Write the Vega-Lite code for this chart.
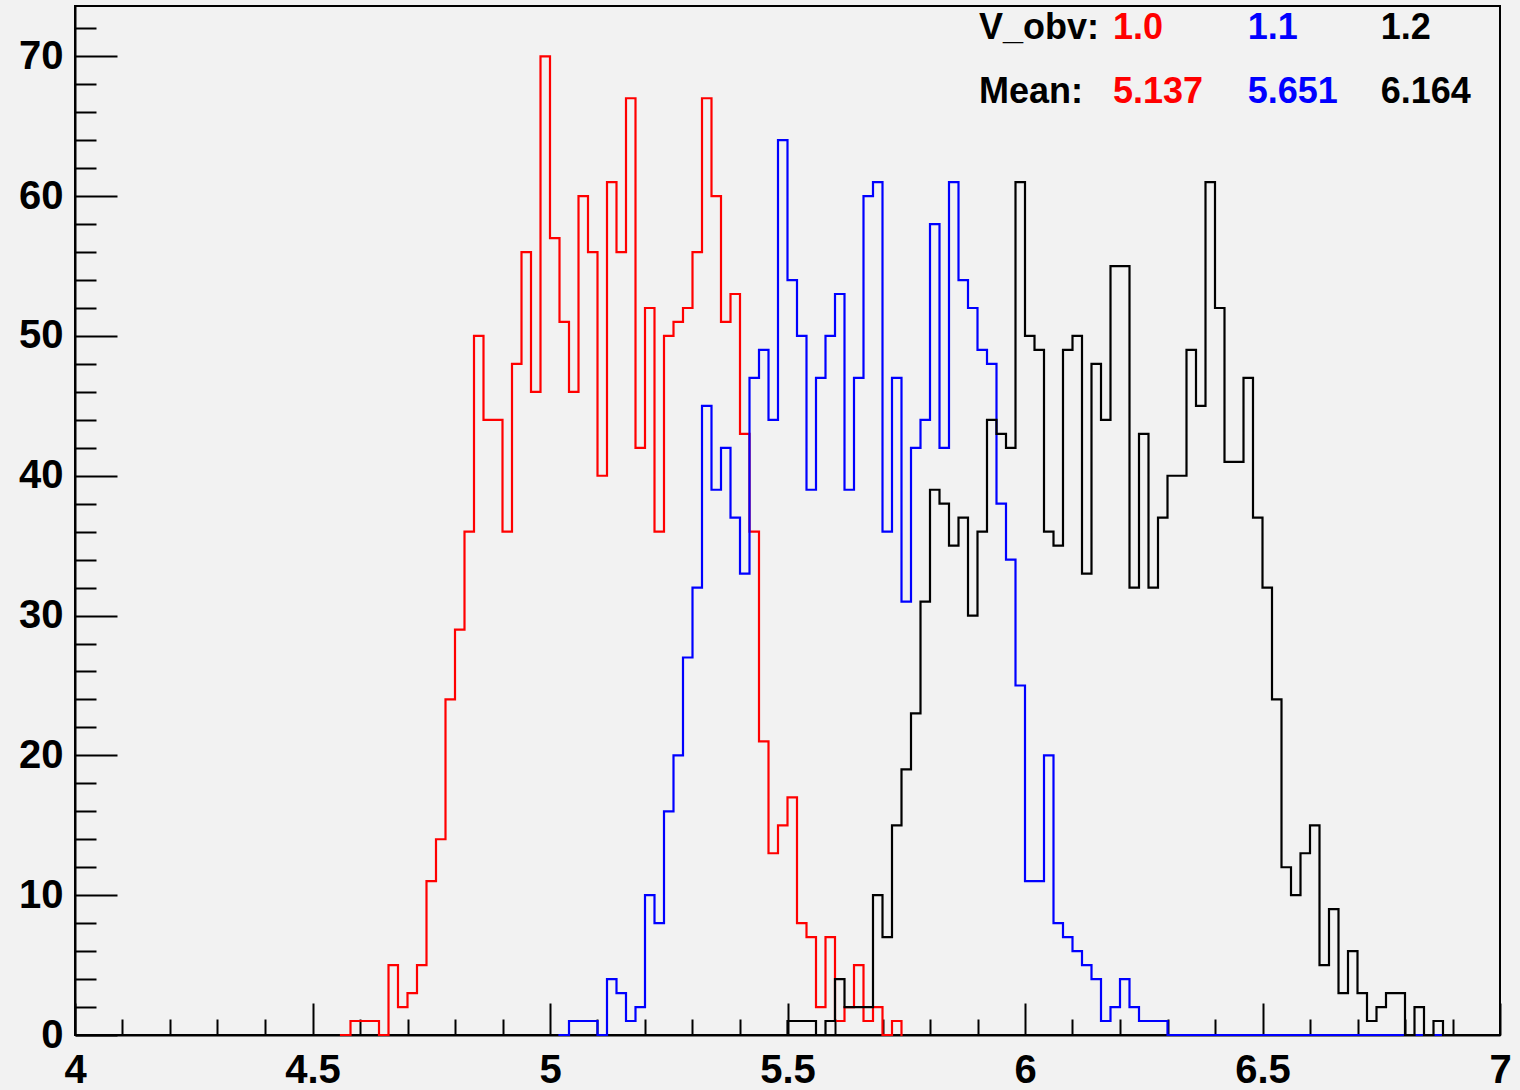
{
  "$schema": "https://vega.github.io/schema/vega-lite/v6.json",
  "width": 1425,
  "height": 1029,
  "autosize": "none",
  "padding": {"left": 75, "top": 6, "right": 20, "bottom": 55},
  "background": "#f2f2f2",
  "config": {
    "view": {"stroke": "#000000", "strokeWidth": 2, "fill": "#f2f2f2"},
    "axis": {
      "grid": false,
      "title": null,
      "domainColor": "#000000",
      "domainWidth": 2,
      "tickColor": "#000000",
      "tickWidth": 2,
      "labelColor": "#000000",
      "labelFont": "Liberation Sans",
      "labelFontWeight": "bold",
      "labelFontSize": 40,
      "labelFlush": false,
      "labelOverlap": false,
      "labelBound": false
    }
  },
  "datasets": {
    "h": [
      {"s":"r","x":4.56,"n":0},{"s":"r","x":4.58,"n":1},{"s":"r","x":4.60,"n":1},{"s":"r","x":4.62,"n":1},{"s":"r","x":4.64,"n":0},{"s":"r","x":4.66,"n":5},{"s":"r","x":4.68,"n":2},{"s":"r","x":4.70,"n":3},{"s":"r","x":4.72,"n":5},{"s":"r","x":4.74,"n":11},{"s":"r","x":4.76,"n":14},{"s":"r","x":4.78,"n":24},{"s":"r","x":4.80,"n":29},{"s":"r","x":4.82,"n":36},{"s":"r","x":4.84,"n":50},{"s":"r","x":4.86,"n":44},{"s":"r","x":4.88,"n":44},{"s":"r","x":4.90,"n":36},{"s":"r","x":4.92,"n":48},{"s":"r","x":4.94,"n":56},{"s":"r","x":4.96,"n":46},{"s":"r","x":4.98,"n":70},{"s":"r","x":5.00,"n":57},{"s":"r","x":5.02,"n":51},{"s":"r","x":5.04,"n":46},{"s":"r","x":5.06,"n":60},{"s":"r","x":5.08,"n":56},{"s":"r","x":5.10,"n":40},{"s":"r","x":5.12,"n":61},{"s":"r","x":5.14,"n":56},{"s":"r","x":5.16,"n":67},{"s":"r","x":5.18,"n":42},{"s":"r","x":5.20,"n":52},{"s":"r","x":5.22,"n":36},{"s":"r","x":5.24,"n":50},{"s":"r","x":5.26,"n":51},{"s":"r","x":5.28,"n":52},{"s":"r","x":5.30,"n":56},{"s":"r","x":5.32,"n":67},{"s":"r","x":5.34,"n":60},{"s":"r","x":5.36,"n":51},{"s":"r","x":5.38,"n":53},{"s":"r","x":5.40,"n":43},{"s":"r","x":5.42,"n":36},{"s":"r","x":5.44,"n":21},{"s":"r","x":5.46,"n":13},{"s":"r","x":5.48,"n":15},{"s":"r","x":5.50,"n":17},{"s":"r","x":5.52,"n":8},{"s":"r","x":5.54,"n":7},{"s":"r","x":5.56,"n":2},{"s":"r","x":5.58,"n":7},{"s":"r","x":5.60,"n":1},{"s":"r","x":5.62,"n":2},{"s":"r","x":5.64,"n":5},{"s":"r","x":5.66,"n":1},{"s":"r","x":5.68,"n":2},{"s":"r","x":5.70,"n":0},{"s":"r","x":5.72,"n":1},{"s":"r","x":5.74,"n":0},
      {"s":"b","x":5.02,"n":0},{"s":"b","x":5.04,"n":1},{"s":"b","x":5.06,"n":1},{"s":"b","x":5.08,"n":1},{"s":"b","x":5.10,"n":0},{"s":"b","x":5.12,"n":4},{"s":"b","x":5.14,"n":3},{"s":"b","x":5.16,"n":1},{"s":"b","x":5.18,"n":2},{"s":"b","x":5.20,"n":10},{"s":"b","x":5.22,"n":8},{"s":"b","x":5.24,"n":16},{"s":"b","x":5.26,"n":20},{"s":"b","x":5.28,"n":27},{"s":"b","x":5.30,"n":32},{"s":"b","x":5.32,"n":45},{"s":"b","x":5.34,"n":39},{"s":"b","x":5.36,"n":42},{"s":"b","x":5.38,"n":37},{"s":"b","x":5.40,"n":33},{"s":"b","x":5.42,"n":47},{"s":"b","x":5.44,"n":49},{"s":"b","x":5.46,"n":44},{"s":"b","x":5.48,"n":64},{"s":"b","x":5.50,"n":54},{"s":"b","x":5.52,"n":50},{"s":"b","x":5.54,"n":39},{"s":"b","x":5.56,"n":47},{"s":"b","x":5.58,"n":50},{"s":"b","x":5.60,"n":53},{"s":"b","x":5.62,"n":39},{"s":"b","x":5.64,"n":47},{"s":"b","x":5.66,"n":60},{"s":"b","x":5.68,"n":61},{"s":"b","x":5.70,"n":36},{"s":"b","x":5.72,"n":47},{"s":"b","x":5.74,"n":31},{"s":"b","x":5.76,"n":42},{"s":"b","x":5.78,"n":44},{"s":"b","x":5.80,"n":58},{"s":"b","x":5.82,"n":42},{"s":"b","x":5.84,"n":61},{"s":"b","x":5.86,"n":54},{"s":"b","x":5.88,"n":52},{"s":"b","x":5.90,"n":49},{"s":"b","x":5.92,"n":48},{"s":"b","x":5.94,"n":38},{"s":"b","x":5.96,"n":34},{"s":"b","x":5.98,"n":25},{"s":"b","x":6.00,"n":11},{"s":"b","x":6.02,"n":11},{"s":"b","x":6.04,"n":20},{"s":"b","x":6.06,"n":8},{"s":"b","x":6.08,"n":7},{"s":"b","x":6.10,"n":6},{"s":"b","x":6.12,"n":5},{"s":"b","x":6.14,"n":4},{"s":"b","x":6.16,"n":1},{"s":"b","x":6.18,"n":2},{"s":"b","x":6.20,"n":4},{"s":"b","x":6.22,"n":2},{"s":"b","x":6.24,"n":1},{"s":"b","x":6.26,"n":1},{"s":"b","x":6.28,"n":1},{"s":"b","x":6.30,"n":0},{"s":"b","x":6.32,"n":0},{"s":"b","x":6.34,"n":0},{"s":"b","x":6.36,"n":0},{"s":"b","x":6.38,"n":0},{"s":"b","x":6.40,"n":0},{"s":"b","x":6.42,"n":0},{"s":"b","x":6.44,"n":0},{"s":"b","x":6.46,"n":0},{"s":"b","x":6.48,"n":0},{"s":"b","x":6.50,"n":0},{"s":"b","x":6.52,"n":0},{"s":"b","x":6.54,"n":0},{"s":"b","x":6.56,"n":0},{"s":"b","x":6.58,"n":0},{"s":"b","x":6.60,"n":0},{"s":"b","x":6.62,"n":0},{"s":"b","x":6.64,"n":0},{"s":"b","x":6.66,"n":0},{"s":"b","x":6.68,"n":0},{"s":"b","x":6.70,"n":0},{"s":"b","x":6.72,"n":0},{"s":"b","x":6.74,"n":0},{"s":"b","x":6.76,"n":0},{"s":"b","x":6.78,"n":0},{"s":"b","x":6.80,"n":0},{"s":"b","x":6.82,"n":0},{"s":"b","x":6.84,"n":0},{"s":"b","x":6.86,"n":0},{"s":"b","x":6.88,"n":0},
      {"s":"k","x":5.48,"n":0},{"s":"k","x":5.50,"n":1},{"s":"k","x":5.52,"n":1},{"s":"k","x":5.54,"n":1},{"s":"k","x":5.56,"n":0},{"s":"k","x":5.58,"n":1},{"s":"k","x":5.60,"n":4},{"s":"k","x":5.62,"n":2},{"s":"k","x":5.64,"n":2},{"s":"k","x":5.66,"n":2},{"s":"k","x":5.68,"n":10},{"s":"k","x":5.70,"n":7},{"s":"k","x":5.72,"n":15},{"s":"k","x":5.74,"n":19},{"s":"k","x":5.76,"n":23},{"s":"k","x":5.78,"n":31},{"s":"k","x":5.80,"n":39},{"s":"k","x":5.82,"n":38},{"s":"k","x":5.84,"n":35},{"s":"k","x":5.86,"n":37},{"s":"k","x":5.88,"n":30},{"s":"k","x":5.90,"n":36},{"s":"k","x":5.92,"n":44},{"s":"k","x":5.94,"n":43},{"s":"k","x":5.96,"n":42},{"s":"k","x":5.98,"n":61},{"s":"k","x":6.00,"n":50},{"s":"k","x":6.02,"n":49},{"s":"k","x":6.04,"n":36},{"s":"k","x":6.06,"n":35},{"s":"k","x":6.08,"n":49},{"s":"k","x":6.10,"n":50},{"s":"k","x":6.12,"n":33},{"s":"k","x":6.14,"n":48},{"s":"k","x":6.16,"n":44},{"s":"k","x":6.18,"n":55},{"s":"k","x":6.20,"n":55},{"s":"k","x":6.22,"n":32},{"s":"k","x":6.24,"n":43},{"s":"k","x":6.26,"n":32},{"s":"k","x":6.28,"n":37},{"s":"k","x":6.30,"n":40},{"s":"k","x":6.32,"n":40},{"s":"k","x":6.34,"n":49},{"s":"k","x":6.36,"n":45},{"s":"k","x":6.38,"n":61},{"s":"k","x":6.40,"n":52},{"s":"k","x":6.42,"n":41},{"s":"k","x":6.44,"n":41},{"s":"k","x":6.46,"n":47},{"s":"k","x":6.48,"n":37},{"s":"k","x":6.50,"n":32},{"s":"k","x":6.52,"n":24},{"s":"k","x":6.54,"n":12},{"s":"k","x":6.56,"n":10},{"s":"k","x":6.58,"n":13},{"s":"k","x":6.60,"n":15},{"s":"k","x":6.62,"n":5},{"s":"k","x":6.64,"n":9},{"s":"k","x":6.66,"n":3},{"s":"k","x":6.68,"n":6},{"s":"k","x":6.70,"n":3},{"s":"k","x":6.72,"n":1},{"s":"k","x":6.74,"n":2},{"s":"k","x":6.76,"n":3},{"s":"k","x":6.78,"n":3},{"s":"k","x":6.80,"n":0},{"s":"k","x":6.82,"n":2},{"s":"k","x":6.84,"n":0},{"s":"k","x":6.86,"n":1},{"s":"k","x":6.88,"n":0}
    ]
  },
  "layer": [
    {
      "data": {"name": "h"},
      "mark": {"type": "line", "interpolate": "step-after", "strokeWidth": 2.2, "strokeJoin": "miter", "strokeCap": "square"},
      "encoding": {
        "x": {
          "field": "x", "type": "quantitative",
          "scale": {"domain": [4, 7], "nice": false, "zero": false},
          "axis": {
            "values": [4,4.1,4.2,4.3,4.4,4.5,4.6,4.7,4.8,4.9,5,5.1,5.2,5.3,5.4,5.5,5.6,5.7,5.8,5.9,6,6.1,6.2,6.3,6.4,6.5,6.6,6.7,6.8,6.9,7],
            "tickCount": 200,
            "format": "~g",
            "tickSize": {"condition": {"test": "abs(datum.value*2-round(datum.value*2))<0.001", "value": -32}, "value": -16},
            "labelExpr": "abs(datum.value*2-round(datum.value*2))<0.001 ? datum.label : ''",
            "labelOverlap": false,
            "labelFlush": false,
            "labelPadding": 47
          }
        },
        "y": {
          "field": "n", "type": "quantitative",
          "scale": {"domain": [0, 73.6], "nice": false, "zero": true},
          "axis": {
            "values": [0,2,4,6,8,10,12,14,16,18,20,22,24,26,28,30,32,34,36,38,40,42,44,46,48,50,52,54,56,58,60,62,64,66,68,70,72],
            "tickCount": 200,
            "format": "~g",
            "tickSize": {"condition": {"test": "abs(datum.value/10-round(datum.value/10))<0.001", "value": -42}, "value": -21},
            "labelExpr": "abs(datum.value/10-round(datum.value/10))<0.001 ? datum.label : ''",
            "labelOverlap": false,
            "labelPadding": 54
          }
        },
        "color": {
          "field": "s", "type": "nominal",
          "scale": {"domain": ["r", "b", "k"], "range": ["#ff0000", "#0000ff", "#000000"]},
          "legend": null
        }
      }
    },
    {"data": {"values": [{}]}, "mark": {"type": "text", "align": "left", "baseline": "alphabetic", "font": "Liberation Sans", "fontWeight": "bold", "fontSize": 36, "color": "#000000"}, "encoding": {"x": {"datum": 5.903}, "y": {"datum": 71.24}, "text": {"value": "V_obv:"}}},
    {"data": {"values": [{}]}, "mark": {"type": "text", "align": "left", "baseline": "alphabetic", "font": "Liberation Sans", "fontWeight": "bold", "fontSize": 36, "color": "#ff0000"}, "encoding": {"x": {"datum": 6.185}, "y": {"datum": 71.24}, "text": {"value": "1.0"}}},
    {"data": {"values": [{}]}, "mark": {"type": "text", "align": "left", "baseline": "alphabetic", "font": "Liberation Sans", "fontWeight": "bold", "fontSize": 36, "color": "#0000ff"}, "encoding": {"x": {"datum": 6.469}, "y": {"datum": 71.24}, "text": {"value": "1.1"}}},
    {"data": {"values": [{}]}, "mark": {"type": "text", "align": "left", "baseline": "alphabetic", "font": "Liberation Sans", "fontWeight": "bold", "fontSize": 36, "color": "#000000"}, "encoding": {"x": {"datum": 6.749}, "y": {"datum": 71.24}, "text": {"value": "1.2"}}},
    {"data": {"values": [{}]}, "mark": {"type": "text", "align": "left", "baseline": "alphabetic", "font": "Liberation Sans", "fontWeight": "bold", "fontSize": 36, "color": "#000000"}, "encoding": {"x": {"datum": 5.903}, "y": {"datum": 66.66}, "text": {"value": "Mean:"}}},
    {"data": {"values": [{}]}, "mark": {"type": "text", "align": "left", "baseline": "alphabetic", "font": "Liberation Sans", "fontWeight": "bold", "fontSize": 36, "color": "#ff0000"}, "encoding": {"x": {"datum": 6.185}, "y": {"datum": 66.66}, "text": {"value": "5.137"}}},
    {"data": {"values": [{}]}, "mark": {"type": "text", "align": "left", "baseline": "alphabetic", "font": "Liberation Sans", "fontWeight": "bold", "fontSize": 36, "color": "#0000ff"}, "encoding": {"x": {"datum": 6.469}, "y": {"datum": 66.66}, "text": {"value": "5.651"}}},
    {"data": {"values": [{}]}, "mark": {"type": "text", "align": "left", "baseline": "alphabetic", "font": "Liberation Sans", "fontWeight": "bold", "fontSize": 36, "color": "#000000"}, "encoding": {"x": {"datum": 6.749}, "y": {"datum": 66.66}, "text": {"value": "6.164"}}}
  ]
}
